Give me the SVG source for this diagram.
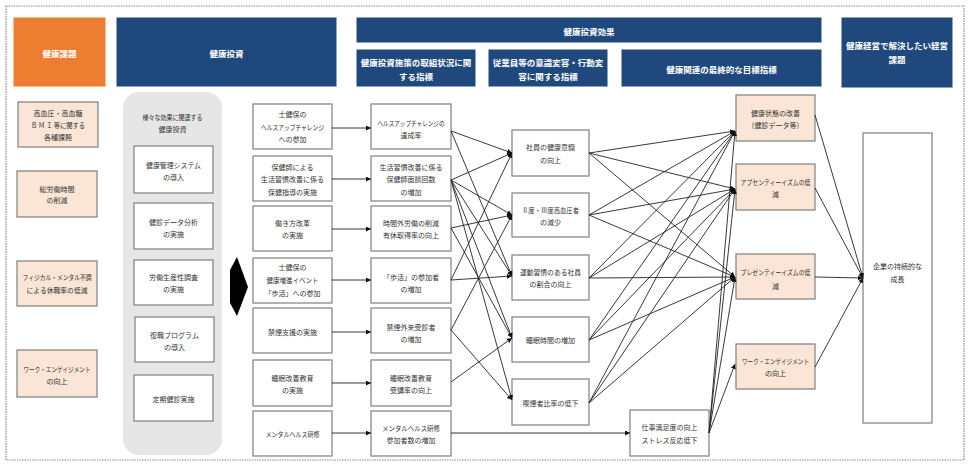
<svg xmlns="http://www.w3.org/2000/svg" width="968" height="468" viewBox="0 0 968 468">
<defs>
<style>
text{font-family:"Noto Sans CJK JP","Noto Sans",sans-serif;fill:#333;font-size:7px;text-anchor:middle;dominant-baseline:central}
.h{fill:#fff;font-size:8.5px;font-weight:bold}
.navy{fill:#1F497D;stroke:#fff;stroke-width:1}
.org{fill:#ED7D31;stroke:#fff;stroke-width:1}
.pch{fill:#FBE5D6;stroke:#7f7f7f;stroke-width:1.2}
.wb{fill:#fff;stroke:#7f7f7f;stroke-width:1.2}
.c line{stroke:#222;stroke-width:0.9;marker-end:url(#ah)}
</style>
<marker id="ah" markerUnits="userSpaceOnUse" markerWidth="5" markerHeight="5" refX="5" refY="2.5" orient="auto">
<path d="M0,0 L5,2.5 L0,5 z" fill="#111"/>
</marker>
</defs>
<rect x="0" y="0" width="968" height="468" fill="#fff"/>
<rect x="6" y="6" width="958" height="454" fill="none" stroke="#7d8fb0" stroke-width="1.2" stroke-dasharray="1.5 1"/>

<g id="hdr1"><rect class="org" x="13" y="17" width="93" height="70"/><text class="h" x="59.5" y="53">健康課題</text></g>
<g id="hdr2"><rect class="navy" x="116" y="17" width="221" height="70"/><text class="h" x="226.5" y="53">健康投資</text></g>
<g id="hdr3"><rect class="navy" x="356" y="17" width="466" height="26"/><text class="h" x="589" y="31">健康投資効果</text></g>
<g id="hdr4"><rect class="navy" x="356" y="49" width="120" height="38"/><text class="h" x="416" y="62">健康投資施策の取組状況に関</text><text class="h" x="416" y="76">する指標</text></g>
<g id="hdr5"><rect class="navy" x="488" y="49" width="120" height="38"/><text class="h" x="548" y="62">従業員等の意識変容・行動変</text><text class="h" x="548" y="76">容に関する指標</text></g>
<g id="hdr6"><rect class="navy" x="621" y="49" width="201" height="38"/><text class="h" x="721.5" y="69">健康関連の最終的な目標指標</text></g>
<g id="hdr7"><rect class="navy" x="841" y="17" width="112" height="71"/><text class="h" x="897" y="45">健康経営で解決したい経営</text><text class="h" x="897" y="59">課題</text></g>

<g id="L1"><rect class="pch" x="18" y="102" width="80" height="45"/><text x="58" y="113">高血圧・高血糖</text><text x="58" y="125" textLength="54" lengthAdjust="spacingAndGlyphs">Ｂ Ｍ Ｉ 等に関する</text><text x="58" y="137">各種課題</text></g>
<g id="L2"><rect class="pch" x="17" y="171" width="80" height="46"/><text x="57" y="189">総労働時間</text><text x="57" y="200">の削減</text></g>
<g id="L3"><rect class="pch" x="17" y="261" width="80" height="45"/><text x="57" y="277" textLength="69" lengthAdjust="spacingAndGlyphs">フィジカル・メンタル不調</text><text x="57" y="290" textLength="61" lengthAdjust="spacingAndGlyphs">による休職率の低減</text></g>
<g id="L4"><rect class="pch" x="17" y="350" width="80" height="47"/><text x="57" y="369" textLength="67" lengthAdjust="spacingAndGlyphs">ワーク・エンゲイジメント</text><text x="57" y="381">の向上</text></g>

<g id="G0"><rect x="123" y="92" width="99" height="363" rx="16" ry="16" fill="#E7E6E6"/><text x="172.5" y="117" textLength="60" lengthAdjust="spacingAndGlyphs">様々な効果に関連する</text><text x="172.5" y="129">健康投資</text></g>
<g id="G1"><rect class="wb" x="134" y="146" width="79" height="47"/><text x="173.5" y="165" textLength="55" lengthAdjust="spacingAndGlyphs">健康管理システム</text><text x="173.5" y="177">の導入</text></g>
<g id="G2"><rect class="wb" x="134" y="203" width="79" height="46"/><text x="173.5" y="222">健診データ分析</text><text x="173.5" y="234">の実施</text></g>
<g id="G3"><rect class="wb" x="134" y="260" width="79" height="45"/><text x="173.5" y="277">労働生産性調査</text><text x="173.5" y="289">の実施</text></g>
<g id="G4"><rect class="wb" x="135" y="317" width="79" height="45"/><text x="174.5" y="335">復職プログラム</text><text x="174.5" y="347">の導入</text></g>
<g id="G5"><rect class="wb" x="134" y="375" width="79" height="46"/><text x="173.5" y="399">定期健診実施</text></g>

<g id="bigArrow"><polygon points="237,257 248,287 237,316 230,303 230,270" fill="#000"/></g>

<g id="A1"><rect class="wb" x="253" y="104" width="79" height="45"/><text x="292.5" y="114">士健保の</text><text x="292.5" y="127" textLength="63" lengthAdjust="spacingAndGlyphs">ヘルスアップチャレンジ</text><text x="292.5" y="139">への参加</text></g>
<g id="A2"><rect class="wb" x="253" y="156" width="79" height="45"/><text x="292.5" y="167">保健師による</text><text x="292.5" y="179">生活習慣改善に係る</text><text x="292.5" y="192">保健指導の実施</text></g>
<g id="A3"><rect class="wb" x="253" y="206" width="79" height="45"/><text x="292.5" y="223">働き方改革</text><text x="292.5" y="235">の実施</text></g>
<g id="A4"><rect class="wb" x="253" y="258" width="79" height="45"/><text x="292.5" y="267">士健保の</text><text x="292.5" y="280" textLength="52" lengthAdjust="spacingAndGlyphs">健康増進イベント</text><text x="292.5" y="293">「歩活」への参加</text></g>
<g id="A5"><rect class="wb" x="253" y="308" width="79" height="45"/><text x="292.5" y="332">禁煙支援の実施</text></g>
<g id="A6"><rect class="wb" x="253" y="360" width="79" height="46"/><text x="292.5" y="378">睡眠改善教育</text><text x="292.5" y="390">の実施</text></g>
<g id="A7"><rect class="wb" x="253" y="411" width="79" height="45"/><text x="292.5" y="434" textLength="54" lengthAdjust="spacingAndGlyphs">メンタルヘルス研修</text></g>

<g id="B1"><rect class="wb" x="371" y="104" width="80" height="45"/><text x="411" y="123" textLength="67" lengthAdjust="spacingAndGlyphs">ヘルスアップチャレンジの</text><text x="411" y="135">達成率</text></g>
<g id="B2"><rect class="wb" x="371" y="156" width="80" height="45"/><text x="411" y="167">生活習慣改善に係る</text><text x="411" y="179">保健師面談回数</text><text x="411" y="192">の増加</text></g>
<g id="B3"><rect class="wb" x="371" y="206" width="80" height="45"/><text x="411" y="223">時間外労働の削減</text><text x="411" y="235">有休取得率の向上</text></g>
<g id="B4"><rect class="wb" x="371" y="258" width="80" height="45"/><text x="411" y="277">「歩活」の参加者</text><text x="411" y="289">の増加</text></g>
<g id="B5"><rect class="wb" x="371" y="308" width="80" height="45"/><text x="411" y="327">禁煙外来受診者</text><text x="411" y="339">の増加</text></g>
<g id="B6"><rect class="wb" x="371" y="360" width="80" height="46"/><text x="411" y="378">睡眠改善教育</text><text x="411" y="390">受講率の向上</text></g>
<g id="B7"><rect class="wb" x="371" y="411" width="80" height="45"/><text x="411" y="428" textLength="58" lengthAdjust="spacingAndGlyphs">メンタルヘルス研修</text><text x="411" y="440">参加者数の増加</text></g>

<g id="C1"><rect class="wb" x="512" y="130" width="77" height="46"/><text x="550.5" y="147">社員の健康意識</text><text x="550.5" y="160">の向上</text></g>
<g id="C2"><rect class="wb" x="512" y="193" width="77" height="44"/><text x="550.5" y="210" textLength="57" lengthAdjust="spacingAndGlyphs">Ⅱ度・Ⅲ度高血圧者</text><text x="550.5" y="222">の減少</text></g>
<g id="C3"><rect class="wb" x="512" y="255" width="77" height="45"/><text x="550.5" y="272" textLength="61" lengthAdjust="spacingAndGlyphs">運動習慣のある社員</text><text x="550.5" y="284">の割合の向上</text></g>
<g id="C4"><rect class="wb" x="512" y="317" width="77" height="45"/><text x="550.5" y="340">睡眠時間の増加</text></g>
<g id="C5"><rect class="wb" x="512" y="379" width="77" height="46"/><text x="550.5" y="403">喫煙者比率の低下</text></g>
<g id="C6"><rect class="wb" x="630" y="410" width="79" height="46"/><text x="669.5" y="427">仕事満足度の向上</text><text x="669.5" y="440">ストレス反応低下</text></g>

<g id="D1"><rect class="pch" x="736" y="95" width="79" height="46"/><text x="775.5" y="113">健康状態の改善</text><text x="775.5" y="125">（健診データ等）</text></g>
<g id="D2"><rect class="pch" x="736" y="164" width="79" height="46"/><text x="775.5" y="182" textLength="70" lengthAdjust="spacingAndGlyphs">アブセンティーイズムの低</text><text x="775.5" y="194">減</text></g>
<g id="D3"><rect class="pch" x="736" y="254" width="79" height="45"/><text x="775.5" y="272" textLength="70" lengthAdjust="spacingAndGlyphs">プレゼンティーイズムの低</text><text x="775.5" y="286">減</text></g>
<g id="D4"><rect class="pch" x="736" y="344" width="79" height="45"/><text x="775.5" y="361" textLength="67" lengthAdjust="spacingAndGlyphs">ワーク・エンゲイジメント</text><text x="775.5" y="373">の向上</text></g>

<g id="E1"><rect class="wb" x="863" y="133" width="69" height="290"/><text x="897.5" y="266">企業の持続的な</text><text x="897.5" y="279">成長</text></g>

<g id="connectors" class="c">
<line x1="332" y1="128" x2="371" y2="128"/>
<line x1="332" y1="179" x2="371" y2="179"/>
<line x1="332" y1="229" x2="371" y2="229"/>
<line x1="332" y1="280" x2="371" y2="280"/>
<line x1="332" y1="332" x2="371" y2="332"/>
<line x1="332" y1="383" x2="371" y2="383"/>
<line x1="332" y1="433" x2="371" y2="433"/>

<line x1="451" y1="131" x2="512" y2="153"/>
<line x1="451" y1="131" x2="512" y2="276"/>
<line x1="451" y1="180" x2="512" y2="153"/>
<line x1="451" y1="180" x2="512" y2="215"/>
<line x1="451" y1="180" x2="512" y2="276"/>
<line x1="451" y1="180" x2="512" y2="338"/>
<line x1="451" y1="180" x2="512" y2="400"/>
<line x1="451" y1="228" x2="512" y2="215"/>
<line x1="451" y1="228" x2="512" y2="338"/>
<line x1="451" y1="280" x2="512" y2="153"/>
<line x1="451" y1="280" x2="512" y2="276"/>
<line x1="451" y1="330" x2="512" y2="215"/>
<line x1="451" y1="330" x2="512" y2="400"/>
<line x1="451" y1="382" x2="512" y2="338"/>
<line x1="451" y1="433" x2="630" y2="433"/>

<line x1="589" y1="153" x2="735" y2="131"/>
<line x1="589" y1="153" x2="735" y2="189"/>
<line x1="589" y1="153" x2="735" y2="277"/>
<line x1="589" y1="215" x2="735" y2="131"/>
<line x1="589" y1="215" x2="735" y2="189"/>
<line x1="589" y1="215" x2="735" y2="277"/>
<line x1="589" y1="278" x2="735" y2="131"/>
<line x1="589" y1="278" x2="735" y2="189"/>
<line x1="589" y1="278" x2="735" y2="277"/>
<line x1="589" y1="340" x2="735" y2="131"/>
<line x1="589" y1="340" x2="735" y2="189"/>
<line x1="589" y1="340" x2="735" y2="277"/>
<line x1="589" y1="403" x2="735" y2="131"/>
<line x1="589" y1="403" x2="735" y2="189"/>
<line x1="589" y1="403" x2="735" y2="277"/>
<line x1="709" y1="433" x2="735" y2="131"/>
<line x1="709" y1="433" x2="735" y2="189"/>
<line x1="709" y1="433" x2="735" y2="277"/>
<line x1="709" y1="433" x2="735" y2="364"/>

<line x1="815" y1="115" x2="863" y2="278"/>
<line x1="815" y1="188" x2="863" y2="278"/>
<line x1="815" y1="277" x2="863" y2="278"/>
<line x1="815" y1="367" x2="863" y2="278"/>
</g>
</svg>
